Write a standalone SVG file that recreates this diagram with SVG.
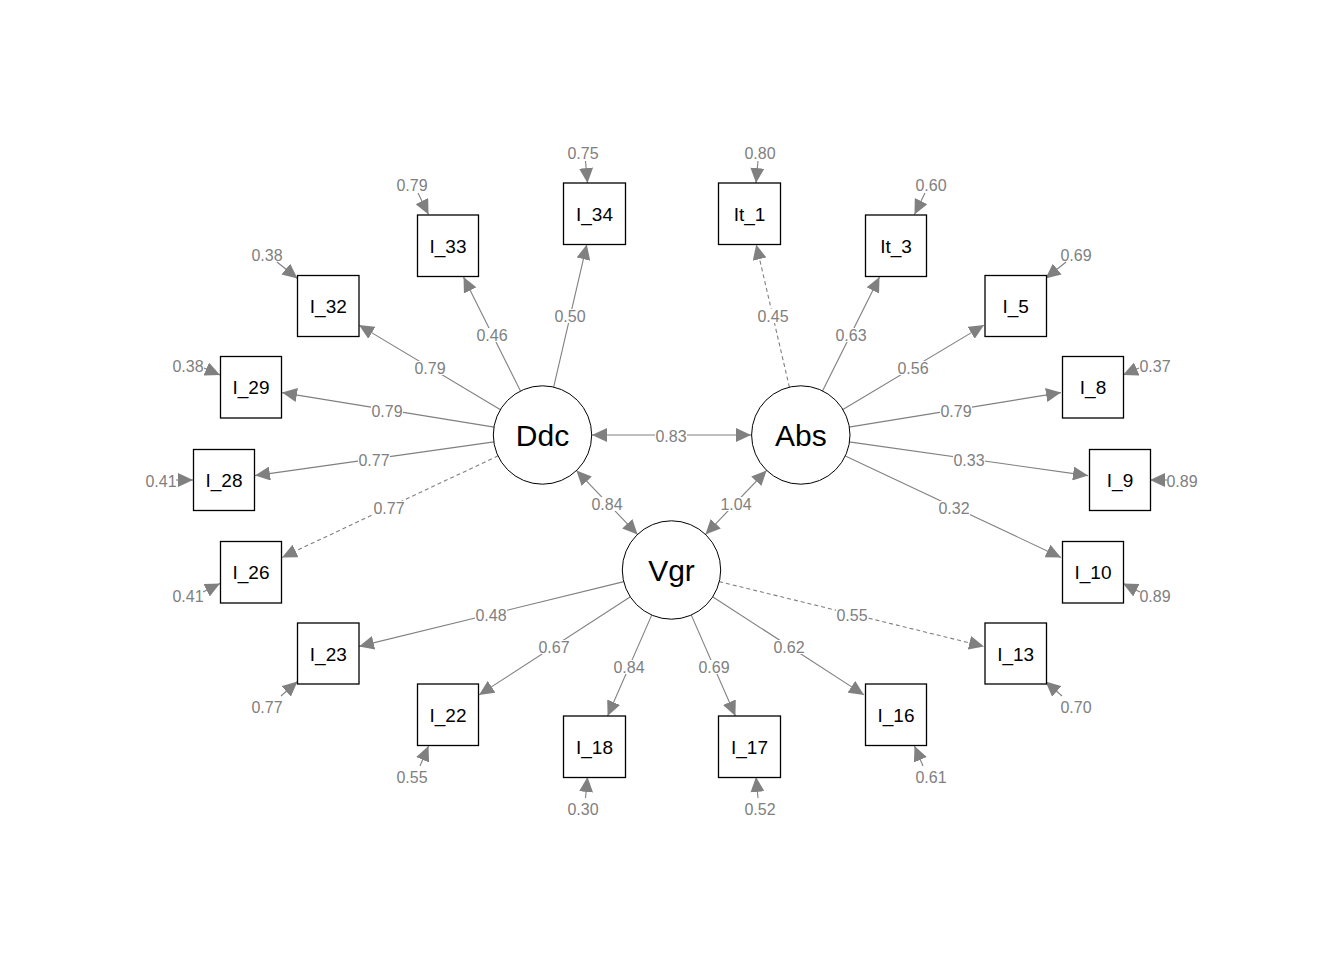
<svg xmlns="http://www.w3.org/2000/svg" width="1344" height="960" viewBox="0 0 1344 960">
<style>
.bg{fill:#ffffff}
.ln{stroke:#808080;stroke-width:1.1;fill:none;marker-end:url(#ah)}
.dash{stroke-dasharray:4,3}
.cov{marker-start:url(#ahs)}
.res{stroke:#808080;stroke-width:1.1;fill:none;marker-end:url(#ah)}
.lb{fill:#ffffff}
.el{font-family:"Liberation Sans",Arial,sans-serif;font-size:16px;fill:#808080;text-anchor:middle}
.box{fill:#ffffff;stroke:#000000;stroke-width:1.3}
.lat{fill:#ffffff;stroke:#000000;stroke-width:1}
.nt{font-family:"Liberation Sans",Arial,sans-serif;font-size:19px;fill:#000000;text-anchor:middle}
.lt{font-family:"Liberation Sans",Arial,sans-serif;font-size:30px;fill:#000000;text-anchor:middle}
</style>
<defs>
<marker id="ah" viewBox="0 0 15 14" refX="15" refY="7" markerWidth="15" markerHeight="14" markerUnits="userSpaceOnUse" orient="auto">
<path d="M0,0 L15,7 L0,14 z" fill="#808080"/>
</marker>
<marker id="ahs" viewBox="0 0 15 14" refX="15" refY="7" markerWidth="15" markerHeight="14" markerUnits="userSpaceOnUse" orient="auto-start-reverse">
<path d="M0,0 L15,7 L0,14 z" fill="#808080"/>
</marker>
</defs>
<rect class="bg" x="0" y="0" width="1344" height="960"/>

<g id="connectors">
<!-- Ddc loadings -->
<line class="ln" x1="553.6" y1="387.3" x2="586.8" y2="244.5"/>
<line class="ln" x1="520.6" y1="391.2" x2="463.5" y2="277"/>
<line class="ln" x1="500.5" y1="409.8" x2="359" y2="325.1"/>
<line class="ln" x1="494.1" y1="427.1" x2="282" y2="392.6"/>
<line class="ln" x1="494" y1="441.9" x2="255" y2="475.6"/>
<line class="ln dash" x1="498.2" y1="455.8" x2="282" y2="557.4"/>
<!-- Abs loadings -->
<line class="ln dash" x1="789.4" y1="387.3" x2="756.2" y2="244.5"/>
<line class="ln" x1="822.4" y1="391.2" x2="879.5" y2="277"/>
<line class="ln" x1="842.5" y1="409.8" x2="984" y2="325.1"/>
<line class="ln" x1="848.9" y1="427.1" x2="1061" y2="392.6"/>
<line class="ln" x1="849" y1="441.9" x2="1088" y2="475.6"/>
<line class="ln" x1="844.8" y1="455.8" x2="1061" y2="557.4"/>
<!-- Vgr loadings -->
<line class="ln" x1="623.9" y1="581.6" x2="359" y2="646.4"/>
<line class="ln" x1="630.4" y1="596.7" x2="479" y2="694.9"/>
<line class="ln" x1="651.8" y1="614.9" x2="607.6" y2="716"/>
<line class="ln" x1="691.2" y1="614.9" x2="735.4" y2="716"/>
<line class="ln" x1="712.6" y1="596.7" x2="864" y2="694.9"/>
<line class="ln dash" x1="719.1" y1="581.6" x2="984" y2="646.4"/>
<!-- covariances -->
<line class="ln cov" x1="592" y1="435" x2="751" y2="435"/>
<line class="ln cov" x1="576.4" y1="470.4" x2="637.6" y2="534.6"/>
<line class="ln cov" x1="766.6" y1="470.4" x2="705.4" y2="534.6"/>
<!-- residuals -->
<line class="res" x1="585.5" y1="161" x2="587.5" y2="183"/>
<line class="res" x1="758" y1="161" x2="756" y2="183"/>
<line class="res" x1="418" y1="193" x2="428.5" y2="214.5"/>
<line class="res" x1="925" y1="193" x2="914.5" y2="214.5"/>
<line class="res" x1="277" y1="262" x2="297.5" y2="278.5"/>
<line class="res" x1="1066" y1="262" x2="1045.5" y2="278.5"/>
<line class="res" x1="204" y1="368" x2="220" y2="375"/>
<line class="res" x1="1139" y1="368" x2="1123" y2="375"/>
<line class="res" x1="176" y1="480" x2="193" y2="480"/>
<line class="res" x1="1167" y1="480" x2="1150" y2="480"/>
<line class="res" x1="203" y1="592" x2="220" y2="583.5"/>
<line class="res" x1="1140" y1="592" x2="1123" y2="583.5"/>
<line class="res" x1="281" y1="696" x2="297.5" y2="681.5"/>
<line class="res" x1="1062" y1="696" x2="1045.5" y2="681.5"/>
<line class="res" x1="420" y1="766" x2="428.5" y2="746"/>
<line class="res" x1="923" y1="766" x2="914.5" y2="746"/>
<line class="res" x1="585.5" y1="798" x2="587.5" y2="777"/>
<line class="res" x1="758" y1="798" x2="756" y2="777"/>
</g>

<g id="edge-labels">
<rect class="lb" x="554" y="309" width="32" height="14"/><text class="el" x="570" y="321.5">0.50</text>
<rect class="lb" x="476" y="328" width="32" height="14"/><text class="el" x="492" y="340.5">0.46</text>
<rect class="lb" x="414" y="361" width="32" height="14"/><text class="el" x="430" y="373.5">0.79</text>
<rect class="lb" x="371" y="404" width="32" height="14"/><text class="el" x="387" y="416.5">0.79</text>
<rect class="lb" x="358" y="453" width="32" height="14"/><text class="el" x="374" y="465.5">0.77</text>
<rect class="lb" x="373" y="501" width="32" height="14"/><text class="el" x="389" y="513.5">0.77</text>

<rect class="lb" x="757" y="309" width="32" height="14"/><text class="el" x="773" y="321.5">0.45</text>
<rect class="lb" x="835" y="328" width="32" height="14"/><text class="el" x="851" y="340.5">0.63</text>
<rect class="lb" x="897" y="361" width="32" height="14"/><text class="el" x="913" y="373.5">0.56</text>
<rect class="lb" x="940" y="404" width="32" height="14"/><text class="el" x="956" y="416.5">0.79</text>
<rect class="lb" x="953" y="453" width="32" height="14"/><text class="el" x="969" y="465.5">0.33</text>
<rect class="lb" x="938" y="501" width="32" height="14"/><text class="el" x="954" y="513.5">0.32</text>

<rect class="lb" x="475" y="608" width="32" height="14"/><text class="el" x="491" y="620.5">0.48</text>
<rect class="lb" x="538" y="640" width="32" height="14"/><text class="el" x="554" y="652.5">0.67</text>
<rect class="lb" x="613" y="660" width="32" height="14"/><text class="el" x="629" y="672.5">0.84</text>
<rect class="lb" x="698" y="660" width="32" height="14"/><text class="el" x="714" y="672.5">0.69</text>
<rect class="lb" x="773" y="640" width="32" height="14"/><text class="el" x="789" y="652.5">0.62</text>
<rect class="lb" x="836" y="608" width="32" height="14"/><text class="el" x="852" y="620.5">0.55</text>

<rect class="lb" x="655" y="429" width="32" height="14"/><text class="el" x="671" y="441.5">0.83</text>
<rect class="lb" x="591" y="497" width="32" height="14"/><text class="el" x="607" y="509.5">0.84</text>
<rect class="lb" x="720" y="497" width="32" height="14"/><text class="el" x="736" y="509.5">1.04</text>

<text class="el" x="583" y="158.5">0.75</text>
<text class="el" x="760" y="158.5">0.80</text>
<text class="el" x="412" y="190.5">0.79</text>
<text class="el" x="931" y="190.5">0.60</text>
<text class="el" x="267" y="260.5">0.38</text>
<text class="el" x="1076" y="260.5">0.69</text>
<text class="el" x="188" y="371.5">0.38</text>
<text class="el" x="1155" y="371.5">0.37</text>
<text class="el" x="161" y="486.5">0.41</text>
<text class="el" x="1182" y="486.5">0.89</text>
<text class="el" x="188" y="601.5">0.41</text>
<text class="el" x="1155" y="601.5">0.89</text>
<text class="el" x="267" y="712.5">0.77</text>
<text class="el" x="1076" y="712.5">0.70</text>
<text class="el" x="412" y="782.5">0.55</text>
<text class="el" x="931" y="782.5">0.61</text>
<text class="el" x="583" y="814.5">0.30</text>
<text class="el" x="760" y="814.5">0.52</text>
</g>

<g id="node-I_34"><rect class="box" x="563.5" y="183" width="62" height="61.5"/><text class="nt" x="594.5" y="220.5">I_34</text></g>
<g id="node-I_33"><rect class="box" x="417.5" y="215" width="61" height="61.5"/><text class="nt" x="448" y="252.5">I_33</text></g>
<g id="node-I_32"><rect class="box" x="297.5" y="275.5" width="61.5" height="61"/><text class="nt" x="328.3" y="313">I_32</text></g>
<g id="node-I_29"><rect class="box" x="220.5" y="356.5" width="61" height="61.5"/><text class="nt" x="251" y="394">I_29</text></g>
<g id="node-I_28"><rect class="box" x="193.5" y="449.5" width="61" height="61"/><text class="nt" x="224" y="487">I_28</text></g>
<g id="node-I_26"><rect class="box" x="220.5" y="541.5" width="61" height="61.5"/><text class="nt" x="251" y="579">I_26</text></g>
<g id="node-I_23"><rect class="box" x="297.5" y="623" width="61.5" height="61"/><text class="nt" x="328.3" y="660.5">I_23</text></g>
<g id="node-I_22"><rect class="box" x="417.5" y="684" width="61" height="61.5"/><text class="nt" x="448" y="721.5">I_22</text></g>
<g id="node-I_18"><rect class="box" x="563.5" y="716" width="62" height="61.5"/><text class="nt" x="594.5" y="753.5">I_18</text></g>
<g id="node-I_17"><rect class="box" x="718.5" y="716" width="62" height="61.5"/><text class="nt" x="749.5" y="753.5">I_17</text></g>
<g id="node-I_16"><rect class="box" x="865.5" y="684" width="61" height="61.5"/><text class="nt" x="896" y="721.5">I_16</text></g>
<g id="node-I_13"><rect class="box" x="985" y="623" width="61.5" height="61"/><text class="nt" x="1015.7" y="660.5">I_13</text></g>
<g id="node-I_10"><rect class="box" x="1062.5" y="541.5" width="61" height="61.5"/><text class="nt" x="1093" y="579">I_10</text></g>
<g id="node-I_9"><rect class="box" x="1089.5" y="449.5" width="61" height="61"/><text class="nt" x="1120" y="487">I_9</text></g>
<g id="node-I_8"><rect class="box" x="1062.5" y="356.5" width="61" height="61.5"/><text class="nt" x="1093" y="394">I_8</text></g>
<g id="node-I_5"><rect class="box" x="985" y="275.5" width="61.5" height="61"/><text class="nt" x="1015.7" y="313">I_5</text></g>
<g id="node-It_3"><rect class="box" x="865.5" y="215" width="61" height="61.5"/><text class="nt" x="896" y="252.5">It_3</text></g>
<g id="node-It_1"><rect class="box" x="718.5" y="183" width="62" height="61.5"/><text class="nt" x="749.5" y="220.5">It_1</text></g>

<g id="node-Ddc"><circle class="lat" cx="542.5" cy="435" r="49.2"/><text class="lt" x="542.5" y="446">Ddc</text></g>
<g id="node-Abs"><circle class="lat" cx="800.8" cy="435" r="49.2"/><text class="lt" x="800.8" y="446">Abs</text></g>
<g id="node-Vgr"><circle class="lat" cx="671.5" cy="570" r="49.2"/><text class="lt" x="671.5" y="581">Vgr</text></g>
</svg>
